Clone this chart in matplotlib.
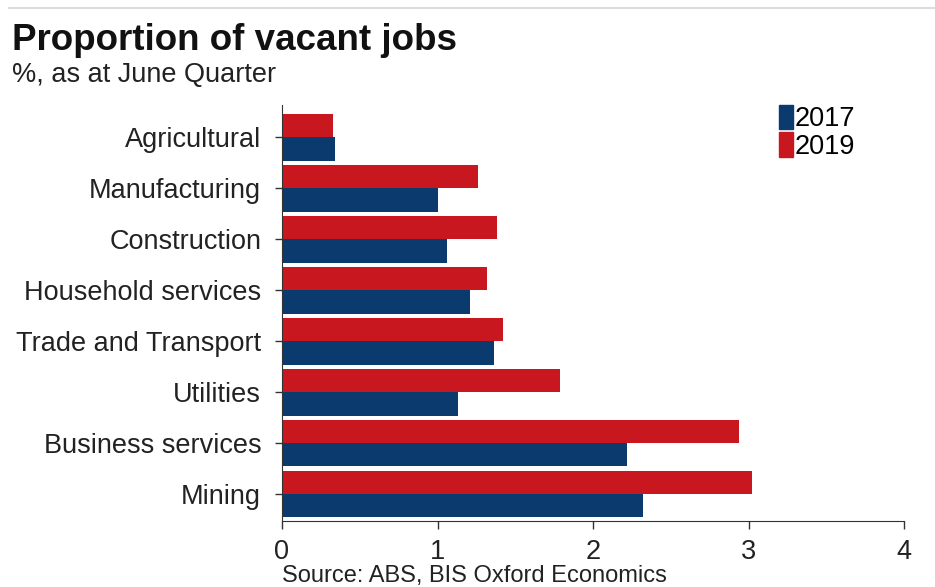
import matplotlib
matplotlib.use('Agg')
import matplotlib.pyplot as plt
import numpy as np
from matplotlib.lines import Line2D
from matplotlib.patches import Patch

# Данные
categories = ['Agricultural', 'Manufacturing', 'Construction', 'Household services',
              'Trade and Transport', 'Utilities', 'Business services', 'Mining']
values_2017 = [0.34, 1.00, 1.06, 1.21, 1.36, 1.13, 2.22, 2.32]
values_2019 = [0.33, 1.26, 1.38, 1.32, 1.42, 1.79, 2.94, 3.02]
x_ticks = [0, 1, 2, 3, 4]

NAVY = '#0b3a6f'
RED = '#c8171f'

plt.rcParams['font.family'] = ['Liberation Sans', 'DejaVu Sans']

fig = plt.figure(figsize=(9.35, 5.87), dpi=100)
ax = fig.add_axes([0.3016, 0.1124, 0.6654, 0.7086])

y = np.arange(len(categories))
h = 0.46
ax.barh(y - h / 2, values_2019, height=h, color=RED, label='2019')
ax.barh(y + h / 2, values_2017, height=h, color=NAVY, label='2017')

ax.set_ylim(7.53, -0.63)
ax.set_xlim(0, 4)
ax.set_yticks(y)
ax.set_yticklabels(categories, fontsize=19.5, color='#222222')
ax.set_xticks(x_ticks)
ax.set_xticklabels([str(t) for t in x_ticks], fontsize=19.5, color='#222222')

ax.spines['top'].set_visible(False)
ax.spines['right'].set_visible(False)
ax.spines['left'].set_color('#333333')
ax.spines['bottom'].set_color('#333333')
ax.tick_params(axis='y', length=5, width=1, pad=10, color='#333333')
ax.tick_params(axis='x', length=6, width=1, pad=7, color='#333333')

# Легенда
handles = [Patch(color=NAVY, label='2017'), Patch(color=RED, label='2019')]
ax.legend(handles=handles, loc='upper left', bbox_to_anchor=(0.782, 1.026),
          frameon=False, fontsize=19.5, handlelength=0.5, handleheight=1.0,
          handletextpad=0.05, labelspacing=0.0, borderaxespad=0)

# Заголовки
fig.text(0.013, 0.915, 'Proportion of vacant jobs', fontsize=26.5, fontweight='bold',
         color='#111111')
fig.text(0.013, 0.86, '%, as at June Quarter', fontsize=19.5, color='#222222')
fig.text(0.302, 0.009, 'Source: ABS, BIS Oxford Economics', fontsize=17,
         color='#222222')

# Серая линия сверху
fig.add_artist(Line2D([0.01, 1.0], [0.986, 0.986], color='#dddddd', linewidth=1.5))

fig.savefig('out.png', dpi=100)
